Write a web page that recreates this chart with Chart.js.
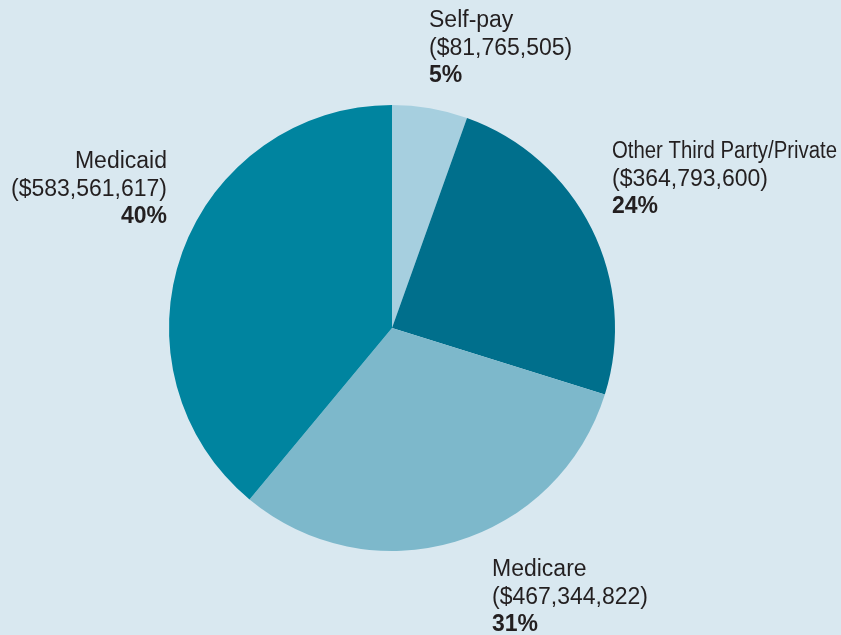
<!DOCTYPE html>
<html>
<head>
<meta charset="utf-8">
<script src="https://cdn.jsdelivr.net/npm/chart.js@4"></script>
<style>
  html, body { margin: 0; padding: 0; background: #d9e8f0; }
  #wrap { width: 841px; height: 635px; }
</style>
</head>
<body>
<div id="wrap"><canvas id="pastel" width="841" height="635"></canvas></div>
<script>
// Datos
const categorias = ['Self-pay', 'Other Third Party/Private', 'Medicare', 'Medicaid'];
const montos = [81765505, 364793600, 467344822, 583561617];
const porcentajes = ['5%', '24%', '31%', '40%'];
const colores = ['#a6cfdf', '#006f8c', '#7db8cb', '#00849f'];

// Posicion de cada etiqueta (x, y de la primera linea base, alineacion, ancho maximo)
const etiquetas = [
    { x: 429, y: 27, align: 'left' },
    { x: 612, y: 158, align: 'left', max: 225 },
    { x: 492, y: 576, align: 'left' },
    { x: 167, y: 168, align: 'right' }
];

const fmt = n => '($' + n.toLocaleString('en-US') + ')';
const fuente = '"Liberation Sans", Arial, sans-serif';

const textos = {
    id: 'textos',
    afterDraw(chart) {
        const ctx = chart.ctx;
        ctx.save();
        ctx.fillStyle = '#231f20';
        ctx.textBaseline = 'alphabetic';
        etiquetas.forEach((e, i) => {
            ctx.textAlign = e.align;
            ctx.font = '23px ' + fuente;
            if (e.max) {
                ctx.fillText(categorias[i], e.x, e.y, e.max);
            } else {
                ctx.fillText(categorias[i], e.x, e.y);
            }
            ctx.fillText(fmt(montos[i]), e.x, e.y + 28);
            ctx.font = 'bold 23px ' + fuente;
            ctx.fillText(porcentajes[i], e.x, e.y + 55);
        });
        ctx.restore();
    }
};

const pastel = document.getElementById('pastel');

new Chart(pastel, {
    type: 'pie',
    data: {
        labels: categorias,
        datasets: [{
            data: montos,
            backgroundColor: colores,
            borderWidth: 0
        }]
    },
    options: {
        responsive: false,
        animation: false,
        layout: {
            padding: { left: 169, right: 226, top: 105, bottom: 84 }
        },
        plugins: {
            legend: { display: false },
            tooltip: { enabled: false }
        }
    },
    plugins: [textos]
});
</script>
</body>
</html>
